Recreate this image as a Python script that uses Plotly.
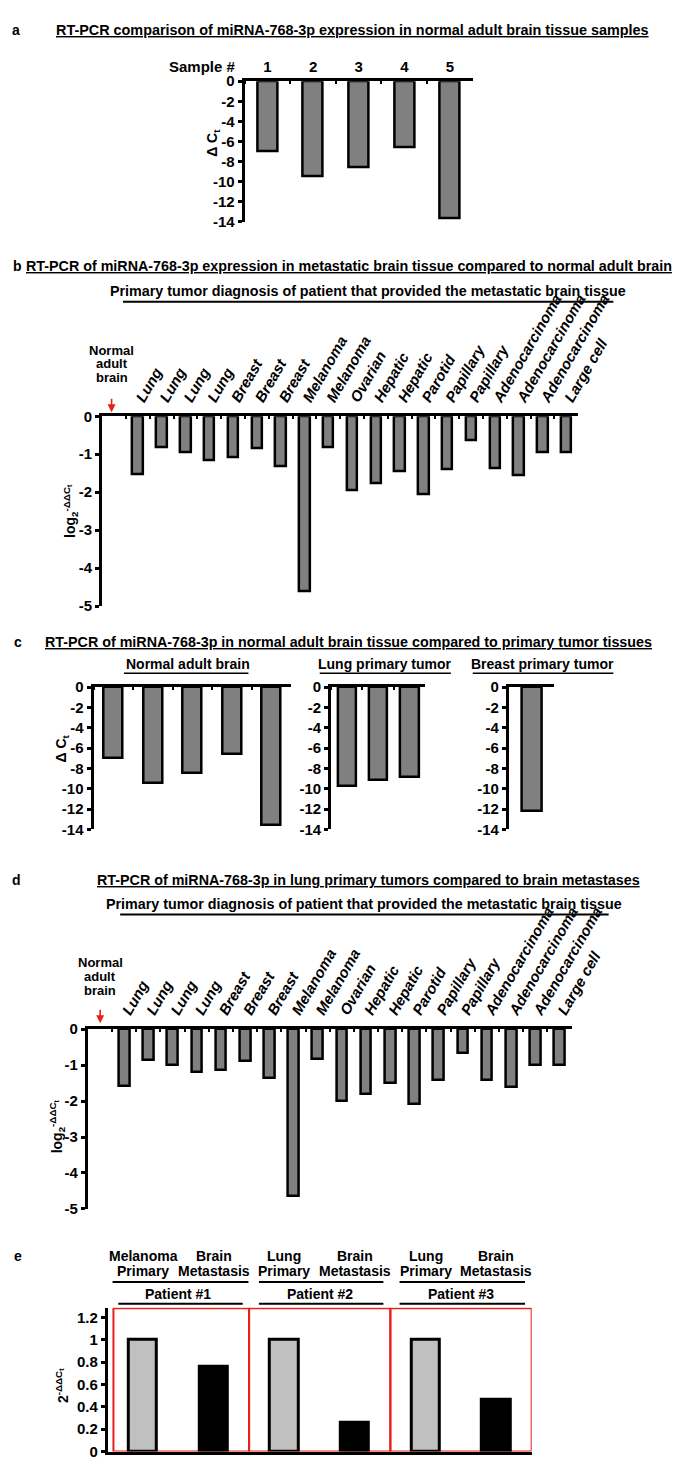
import plotly.graph_objects as go

W, H = 685, 1461

# panel a: normal adult brain samples
a_samples = ['1', '2', '3', '4', '5']
a_dct = [-7.0, -9.5, -8.55, -6.6, -13.7]

# panel b / d: primary tumour diagnosis of the brain metastases
tumor_types = ['Lung', 'Lung', 'Lung', 'Lung', 'Breast', 'Breast', 'Breast',
               'Melanoma', 'Melanoma', 'Ovarian', 'Hepatic', 'Hepatic', 'Parotid',
               'Papillary', 'Papillary', 'Adenocarcinoma', 'Adenocarcinoma',
               'Adenocarcinoma', 'Large cell']
b_log2 = [-1.54, -0.81, -0.96, -1.15, -1.09, -0.83, -1.33, -4.6, -0.81, -1.96,
          -1.76, -1.46, -2.05, -1.39, -0.63, -1.37, -1.56, -0.94, -0.94]
d_log2 = [-1.58, -0.85, -0.99, -1.2, -1.13, -0.88, -1.36, -4.65, -0.83, -2.01,
          -1.8, -1.5, -2.09, -1.42, -0.67, -1.41, -1.61, -0.99, -0.99]

# panel c: normal brain vs primary tumours
c_groups = ['Normal adult brain', 'Lung primary tumor', 'Breast primary tumor']
c_normal = [-7.0, -9.45, -8.5, -6.6, -13.6]
c_lung = [-9.7, -9.1, -8.85]
c_breast = [-12.2]

# panel e: paired primary / brain metastasis
e_top = ['Melanoma', 'Brain', 'Lung', 'Brain', 'Lung', 'Brain']
e_bottom = ['Primary', 'Metastasis', 'Primary', 'Metastasis', 'Primary', 'Metastasis']
e_patients = ['Patient #1', 'Patient #2', 'Patient #3']
e_values = [1.0, 0.76, 1.0, 0.26, 1.0, 0.46]
e_colors = ['#c0c0c0', 'black'] * 3

dct_ticks = [0, -2, -4, -6, -8, -10, -12, -14]
log_ticks = [0, -1, -2, -3, -4, -5]
e_ticks = [0, 0.2, 0.4, 0.6, 0.8, 1, 1.2]


def px(x):
    return x / W


def py(y):
    return 1 - y / H


FONT = 'Liberation Sans, Arial, sans-serif'
GRAY = '#808080'
RED = '#e8201c'

fig = go.Figure()


def bars(x, y, n, width, color=GRAY, lw=2.5):
    fig.add_trace(go.Bar(x=x, y=y, width=width, xaxis='x%d' % n, yaxis='y%d' % n,
                         marker=dict(color=color, line=dict(color='black', width=lw)),
                         hoverinfo='x+y'))


bars(list(range(1, 6)), a_dct, 1, 0.44)
bars(list(range(1, 20)), b_log2, 2, 0.44)
bars(list(range(1, 6)), c_normal, 3, 0.48)
bars(list(range(1, 4)), c_lung, 4, 0.58)
bars([1], c_breast, 5, 0.44)
bars(list(range(1, 20)), d_log2, 6, 0.44)
bars(list(range(1, 7)), e_values, 7, 0.4, e_colors, 3)


def xax(n, x0, x1, rng, side='top', **kw):
    d = dict(domain=[px(x0), px(x1)], range=rng, anchor='y%d' % n, side=side,
             showline=True, linecolor='black', linewidth=3, showgrid=False,
             zeroline=False, fixedrange=True, tickfont=dict(size=15))
    d.update(kw)
    return d


def yax(n, top, bottom, rng, vals, **kw):
    d = dict(domain=[py(bottom), py(top)], range=rng, anchor='x%d' % n,
             showline=True, linecolor='black', linewidth=3, showgrid=False,
             zeroline=False, fixedrange=True, ticks='outside', ticklen=4,
             tickwidth=2.5, tickcolor='black', tickvals=vals,
             ticktext=[('%g' % v) for v in vals],
             tickfont=dict(size=15))
    d.update(kw)
    return d


def boundary_ticks(n):
    return dict(tickmode='array', tickvals=[i + 0.5 for i in range(n)],
                ticks='inside', ticklen=3, tickwidth=2, tickcolor='black')


layout_axes = {}
# a
layout_axes['xaxis'] = xax(1, 249, 489, [0.5, 5.5], tickmode='array',
                           tickvals=list(range(1, 6)), ticktext=a_samples, ticks='',
                           minor=boundary_ticks(5))
layout_axes['yaxis'] = yax(1, 65, 207, [-14, 0], dct_ticks)
# b
layout_axes['xaxis2'] = xax(2, 99, 600, [-0.5, 19.5], tickmode='array',
                            tickvals=list(range(1, 20)),
                            ticktext=['<i>%s</i>' % t for t in tumor_types],
                            ticks='', tickangle=-60, minor=boundary_ticks(19))
layout_axes['yaxis2'] = yax(2, 404, 596, [-5, 0], log_ticks)
# c
layout_axes['xaxis3'] = xax(3, 90, 298, [0.5, 5.5], showticklabels=False,
                            minor=boundary_ticks(5))
layout_axes['yaxis3'] = yax(3, 678, 822, [-14, 0], dct_ticks)
layout_axes['xaxis4'] = xax(4, 340, 439, [0.5, 3.5], showticklabels=False,
                            minor=boundary_ticks(3))
layout_axes['yaxis4'] = yax(4, 678, 822, [-14, 0], dct_ticks)
layout_axes['xaxis5'] = xax(5, 527, 575, [0.5, 1.5], showticklabels=False)
layout_axes['yaxis5'] = yax(5, 678, 822, [-14, 0], dct_ticks)
# d
layout_axes['xaxis6'] = xax(6, 84, 593, [-0.5, 19.5], tickmode='array',
                            tickvals=list(range(1, 20)),
                            ticktext=['<i>%s</i>' % t for t in tumor_types],
                            ticks='', tickangle=-60, minor=boundary_ticks(19))
layout_axes['yaxis6'] = yax(6, 1024, 1206, [-5, 0], log_ticks)
# e
layout_axes['xaxis7'] = xax(7, 105, 551, [0.5, 6.5], side='bottom',
                            showticklabels=False, ticks='')
layout_axes['yaxis7'] = yax(7, 1306, 1451.5, [0, 1.285], e_ticks)

ann = []


def note(text, x, y, size=14, angle=0, xref='paper'):
    ann.append(dict(text=text, x=x if xref != 'paper' else px(x), y=py(y),
                    xref=xref, yref='paper', xanchor='center', yanchor='middle',
                    textangle=angle, showarrow=False, font=dict(size=size)))


def arrow(x, y):
    ann.append(dict(text=' ', x=px(x), y=py(y), xref='paper', yref='paper',
                    showarrow=True, ax=0, ay=-23, arrowhead=2, arrowsize=1,
                    arrowwidth=1.6, arrowcolor=RED))


# panel letters and titles
note('a', 8, 13)
note('<u>RT-PCR comparison of miRNA-768-3p expression in normal adult brain tissue samples</u>', 363, 13, 14.4)
note('Sample #', 205, 50, 15)
note('Δ C<sub>t</sub>', 215, 127, angle=-90)

note('b', 10, 252)
note('<u>RT-PCR of miRNA-768-3p expression in metastatic brain tissue compared to normal adult brain</u>', 359, 252, 14.3)
note('Primary tumor diagnosis of patient that provided the metastatic brain tissue', 379, 277, 14.3)
for i, t in enumerate(['Normal', 'adult', 'brain']):
    note(t, 109, 337 + 14 * i, 13)
arrow(109, 400)
note('log<sub>2</sub><sup>-ΔΔC<sub>t</sub></sup>', 66, 500, angle=-90)

note('c', 10, 632)
note('<u>RT-PCR of miRNA-768-3p in normal adult brain tissue compared to primary tumor tissues</u>', 358, 632, 14.3)
for g, cx in zip(c_groups, [189, 397, 562]):
    note(g, cx, 655)
note('Δ C<sub>t</sub>', 57, 740, angle=-90)

note('d', 9, 873)
note('<u>RT-PCR of miRNA-768-3p in lung primary tumors compared to brain metastases</u>', 379, 873, 14.3)
note('Primary tumor diagnosis of patient that provided the metastatic brain tissue', 375, 897, 14.3)
for i, t in enumerate(['Normal', 'adult', 'brain']):
    note(t, 97, 957 + 14 * i, 13)
arrow(97, 1018)
note('log<sub>2</sub><sup>-ΔΔC<sub>t</sub></sup>', 52, 1122, angle=-90)

note('e', 11, 1254)
for i in range(6):
    note(e_top[i], i + 1, 1254, xref='x7')
    note(e_bottom[i], i + 1, 1269, xref='x7')
for i, p in enumerate(e_patients):
    note(p, 2 * i + 1.5, 1292, xref='x7')
note('2<sup>-ΔΔC<sub>t</sub></sup>', 57, 1385, angle=-90)

shapes = []


def hline(x0, x1, y, width=2):
    shapes.append(dict(type='line', xref='paper', yref='paper', x0=px(x0), x1=px(x1),
                       y0=py(y), y1=py(y), line=dict(color='black', width=width)))


hline(121, 637, 288)
hline(118, 632, 908)
hline(122, 253, 664, 1.5)
hline(328, 466, 664, 1.5)
hline(489, 637, 664, 1.5)
for x0, x1 in [(110, 253), (264, 395), (412, 544)]:
    hline(x0, x1, 1280)
for x0, x1 in [(116, 247), (264, 395), (412, 544)]:
    hline(x0, x1, 1302)

# red patient boxes
for i in range(3):
    shapes.append(dict(type='rect', xref='x7', yref='y7', x0=0.58 if i == 0 else 2 * i + 0.5,
                       x1=2 * i + 2.5, y0=0, y1=1.28, layer='below',
                       line=dict(color=RED, width=2)))

fig.update_layout(width=W, height=H, margin=dict(l=0, r=0, t=0, b=0),
                  paper_bgcolor='white', plot_bgcolor='white', showlegend=False,
                  bargap=0, font=dict(family=FONT, size=14, color='black', weight='bold'),
                  annotations=ann, shapes=shapes, **layout_axes)

fig.write_html('out.html')
